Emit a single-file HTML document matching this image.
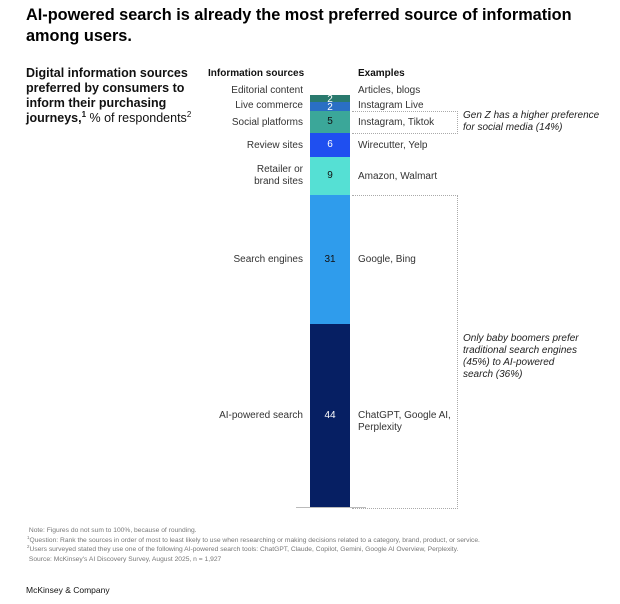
<!DOCTYPE html>
<html><head><meta charset="utf-8"><style>
body{margin:0;background:#fff;font-family:"Liberation Sans",Arial,sans-serif;}
.c{position:relative;width:620px;height:604px;overflow:hidden;}
.a{position:absolute;white-space:nowrap;}
.t{left:26px;top:5px;font-size:16.3px;line-height:21px;color:#000;font-weight:bold;}
.s{left:26px;top:66px;font-size:12.5px;line-height:15px;font-weight:bold;color:#111;}
.h{font-size:10px;font-weight:bold;color:#111;}
.l{font-size:10px;color:#333;text-align:right;right:317px;line-height:12px;}
.e{font-size:10px;color:#333;left:358px;line-height:12px;}
.seg{position:absolute;left:310px;width:40px;color:#fff;font-size:10px;text-align:center;}
.n{font-size:10px;color:#222;font-style:italic;left:463px;line-height:12px;}
.f{left:27px;font-size:6.7px;color:#777;line-height:9.6px;}
.f sup{font-size:4.5px;line-height:0;vertical-align:3px;}
</style></head><body><div class="c">
<div class="a t">AI-powered search is already the most preferred source of information<br>among users.</div>
<div class="a s">Digital information sources<br>preferred by consumers to<br>inform their purchasing<br>journeys,<sup style="font-size:8px;line-height:0">1</sup> <span style="font-weight:normal">% of respondents<sup style="font-size:8px;line-height:0">2</sup></span></div>
<div class="a h" style="left:208px;top:68px">Information sources</div>
<div class="a h" style="left:358px;top:68px">Examples</div>

<div class="a l" style="top:85px">Editorial content</div>
<div class="a l" style="top:100px">Live commerce</div>
<div class="a l" style="top:117px">Social platforms</div>
<div class="a l" style="top:140px">Review sites</div>
<div class="a l" style="top:164px">Retailer or<br>brand sites</div>
<div class="a l" style="top:254px">Search engines</div>
<div class="a l" style="top:410px">AI-powered search</div>

<div class="seg" style="top:95px;height:7px;background:#2a7a6e;line-height:9px">2</div>
<div class="seg" style="top:102px;height:9px;background:#2a6fc4;line-height:11px">2</div>
<div class="seg" style="top:111px;height:22px;background:#3ba799;color:#111;line-height:22px">5</div>
<div class="seg" style="top:133px;height:24px;background:#1f4ff0;line-height:24px">6</div>
<div class="seg" style="top:157px;height:38px;background:#55e0d4;color:#111;line-height:38px">9</div>
<div class="seg" style="top:195px;height:129px;background:#2f9cec;color:#111;line-height:129px">31</div>
<div class="seg" style="top:324px;height:183px;background:#061f63;line-height:183px">44</div>
<div class="a" style="left:296px;top:507px;width:70px;height:1px;background:#bbb"></div>

<div class="a e" style="top:85px">Articles, blogs</div>
<div class="a e" style="top:100px">Instagram Live</div>
<div class="a e" style="top:117px">Instagram, Tiktok</div>
<div class="a e" style="top:140px">Wirecutter, Yelp</div>
<div class="a e" style="top:171px">Amazon, Walmart</div>
<div class="a e" style="top:254px">Google, Bing</div>
<div class="a e" style="top:410px">ChatGPT, Google AI,<br>Perplexity</div>

<div class="a" style="left:352px;top:111px;width:105px;height:21px;border:1px dotted #aaa;border-left:none"></div>
<div class="a" style="left:352px;top:195px;width:105px;height:312px;border:1px dotted #aaa;border-left:none"></div>

<div class="a n" style="top:110px">Gen Z has a higher preference<br>for social media (14%)</div>
<div class="a n" style="top:333px">Only baby boomers prefer<br>traditional search engines<br>(45%) to AI-powered<br>search (36%)</div>

<div class="a f" style="top:526px">&nbsp;Note: Figures do not sum to 100%, because of rounding.<br><sup>1</sup>Question: Rank the sources in order of most to least likely to use when researching or making decisions related to a category, brand, product, or service.<br><sup>2</sup>Users surveyed stated they use one of the following AI-powered search tools: ChatGPT, Claude, Copilot, Gemini, Google AI Overview, Perplexity.<br>&nbsp;Source: McKinsey's AI Discovery Survey, August 2025, n = 1,927</div>
<div class="a" style="left:26px;top:585px;font-size:8.5px;color:#111">McKinsey &amp; Company</div>
</div></body></html>
